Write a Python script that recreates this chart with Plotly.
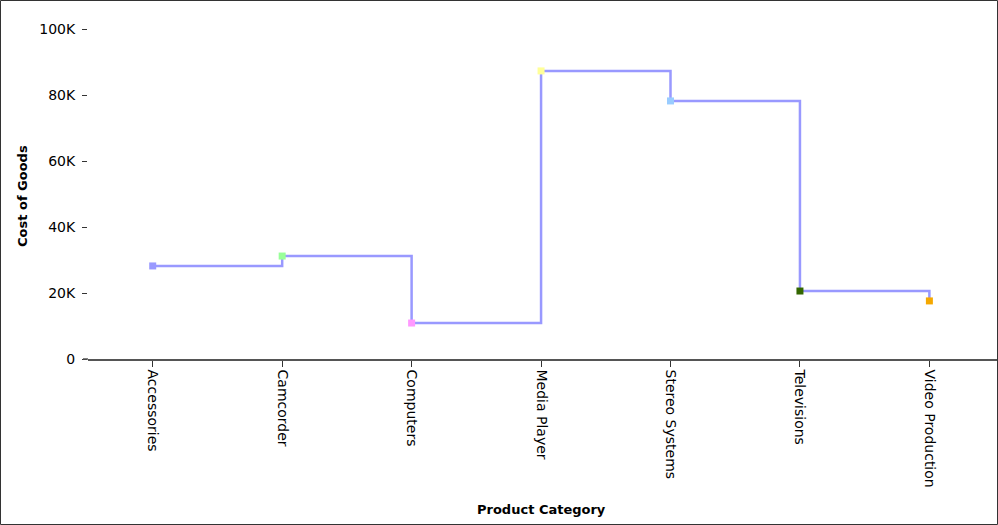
import plotly.graph_objects as go

categories = ["Accessories", "Camcorder", "Computers", "Media Player",
              "Stereo Systems", "Televisions", "Video Production"]
cost_of_goods = [28200, 31200, 10900, 87300, 78200, 20600, 17600]
marker_colors = ["#9999ff", "#99ff99", "#ff99ff", "#ffff99",
                 "#99ccff", "#336600", "#f5a800"]
y_tickvals = [0, 20000, 40000, 60000, 80000, 100000]
y_ticktext = ["0", "20K", "40K", "60K", "80K", "100K"]

W, H = 998, 525
L, R, T, B = 88, 0, 29, 166

fig = go.Figure()
fig.add_trace(go.Scatter(
    x=categories, y=cost_of_goods, mode="lines",
    line=dict(shape="hv", color="#9999ff", width=2.5),
    hoverinfo="skip", showlegend=False))
fig.add_trace(go.Scatter(
    x=categories, y=cost_of_goods, mode="markers",
    marker=dict(symbol="square", size=7, color=marker_colors, line=dict(width=0)),
    showlegend=False))

pw = W - L - R
ph = H - T - B
fig.add_shape(type="rect", xref="paper", yref="paper",
              x0=(0.5 - L) / pw, x1=(W - 0.5 - L) / pw,
              y0=-(B - 0.5) / ph, y1=(H - 0.5 - B) / ph,
              line=dict(color="#333333", width=1), layer="above")
# extend the baseline slightly to the left, as in the reference
fig.add_shape(type="line", xref="paper", yref="paper",
              x0=(83 - L) / pw, x1=0, y0=0, y1=0,
              line=dict(color="#555555", width=1.5), layer="above")

fig.add_annotation(text="<b>Cost of Goods</b>", xref="paper", yref="paper",
                   x=(22 - L) / pw, y=(H - B - 196) / ph, textangle=-90,
                   showarrow=False, xanchor="center", yanchor="middle",
                   font=dict(family="DejaVu Sans", size=13, color="#000000"))
fig.add_annotation(text="<b>Product Category</b>", xref="paper", yref="paper",
                   x=(541 - L) / pw, y=-(509 - (H - B)) / ph,
                   showarrow=False, xanchor="center", yanchor="middle",
                   font=dict(family="DejaVu Sans", size=13, color="#000000"))

fig.update_layout(
    width=W, height=H,
    margin=dict(l=L, r=R, t=T, b=B, pad=0),
    paper_bgcolor="white", plot_bgcolor="white",
    font=dict(family="DejaVu Sans", size=14, color="#000000"),
    xaxis=dict(type="category", range=[-0.5, 6.53], showgrid=False,
               showline=True, linecolor="#555555", linewidth=1.5,
               ticks="outside", ticklen=6, tickcolor="#333333", tickwidth=1,
               tickangle=90, zeroline=False,
               tickfont=dict(family="DejaVu Sans", size=14, color="#000000")),
    yaxis=dict(range=[0, 100000], showgrid=False, showline=False,
               zeroline=False, tickvals=y_tickvals, ticktext=y_ticktext,
               ticks="outside", ticklen=5, tickcolor="#333333",
               ticklabelstandoff=4,
               tickfont=dict(family="DejaVu Sans", size=14, color="#000000")),
)

fig.write_html("out.html", config={"displayModeBar": False},
               post_script="document.body.style.margin='0';document.body.style.overflow='hidden';")
